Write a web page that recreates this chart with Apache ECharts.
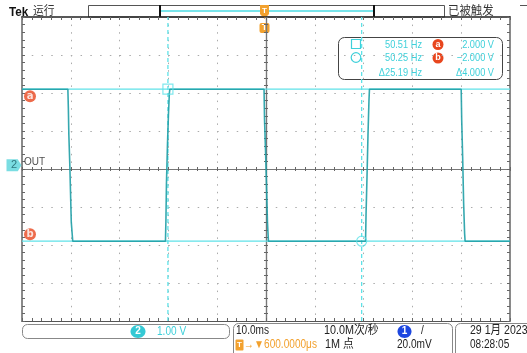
<!DOCTYPE html>
<html>
<head>
<meta charset="utf-8">
<script src="https://cdn.jsdelivr.net/npm/echarts@6/dist/echarts.min.js"></script>
<style>
  html, body { margin: 0; padding: 0; background: #ffffff; }
  #scope { width: 527px; height: 353px; }
</style>
</head>
<body>
<div id="scope"></div>
<script>
// Channel 2 (OUT), 10.0 ms/div horizontally, 1.00 V/div vertically.
// Screen time is measured from the centre graticule line, in ms.
const timeRange = [-50, 50];
// Channel-2 ground sits 0.1 div above the centre line.
const voltRange = [-4.1, 3.9];
const divRange = [-4, 4];

// Captured square wave (ms, V)
const waveTimes = [-50, -40.6, -40.5, -40.4, -40.2, -39.9, -39.6,
  -20.6, -20.5, -20.4, -20.2, -20.0, -19.8, -19.7,
  -0.4, -0.3, -0.1, 0.1, 0.3, 0.5,
  20.4, 20.5, 20.7, 20.9, 21.1, 21.2,
  40.0, 40.1, 40.3, 40.5, 40.7, 40.8, 50];
const waveVolts = [2.0, 2.0, 1.5, 0.8, 0.0, -1.5, -2.0,
  -2.0, -1.4, -0.5, 0.5, 1.3, 1.9, 2.0,
  2.0, 1.2, 0.4, -0.5, -1.5, -2.0,
  -2.0, -1.3, -0.3, 0.8, 1.7, 2.0,
  2.0, 1.2, 0.2, -1.0, -1.8, -2.0, -2.0];

// Trigger point on screen (ms) and cursor readouts
const triggerTime = -0.3;
const cursorFreqs = [50.51, 50.25];        // Hz, 1/t from trigger
const cursorDeltaFreq = 25.19;             // Hz
const cursorVolts = [2.0, -2.0];           // V
const cursorTimes = [triggerTime - 1000 / cursorFreqs[0], triggerTime + 1000 / cursorFreqs[1]];

const waveData = waveTimes.map((t, i) => [t, waveVolts[i]]);

const CYAN = '#3fd0da';
const CURSOR = '#5fe2e8';
const ORANGE = '#f2a12e';
const RED = '#e8461e';
const SANS = '"Liberation Sans", "Noto Sans CJK SC", sans-serif';

// Condensed readout text (the scope font is narrow)
function txt(x, y, text, fill, size, align, squeeze) {
  return {
    type: 'text', silent: true, x: x, y: y, scaleX: squeeze || 0.84,
    style: { x: 0, y: 0, text: text, fill: fill, font: size + 'px ' + SANS, align: align || 'left', verticalAlign: 'middle' }
  };
}
function badge(cx, cy, text, size) {
  return { type: 'text', silent: true, style: { x: cx, y: cy, text: text, fill: '#fff', font: 'bold ' + size + 'px ' + SANS, align: 'center', verticalAlign: 'middle' } };
}

const minorTicks = { show: true, splitNumber: 5, length: 3, lineStyle: { color: '#666', width: 1 } };
const centreMinor = { show: true, splitNumber: 5, length: 2, lineStyle: { color: '#666' } };

const chart = echarts.init(document.getElementById('scope'), null, { renderer: 'canvas' });

chart.setOption({
  animation: false,
  backgroundColor: '#ffffff',
  grid: { left: 22, top: 17, width: 488, height: 304, containLabel: false },
  xAxis: [
    { // bottom edge + vertical dotted graticule
      type: 'value', min: timeRange[0], max: timeRange[1], interval: 10, position: 'bottom',
      axisLine: { onZero: false, lineStyle: { color: '#555', width: 1 } },
      axisTick: { show: true, inside: true, length: 3, lineStyle: { color: '#666' } },
      minorTick: minorTicks,
      splitLine: { show: true, lineStyle: { color: '#ababab', width: 1, type: [1.5, 6.1] } },
      axisLabel: { show: false }
    },
    { // top edge
      type: 'value', min: timeRange[0], max: timeRange[1], interval: 10, position: 'top',
      axisLine: { onZero: false, lineStyle: { color: '#222', width: 1.5 } },
      axisTick: { show: true, inside: true, length: 3, lineStyle: { color: '#666' } },
      minorTick: minorTicks,
      splitLine: { show: false }, axisLabel: { show: false }
    },
    { // centre horizontal line, ticks below
      type: 'value', min: timeRange[0], max: timeRange[1], interval: 10, position: 'bottom',
      axisLine: { onZero: true, onZeroAxisIndex: 1, lineStyle: { color: '#777', width: 1.2 } },
      axisTick: { show: true, inside: false, length: 2, lineStyle: { color: '#666' } },
      minorTick: centreMinor,
      splitLine: { show: false }, axisLabel: { show: false }
    },
    { // centre horizontal line, ticks above
      type: 'value', min: timeRange[0], max: timeRange[1], interval: 10, position: 'bottom',
      axisLine: { onZero: true, onZeroAxisIndex: 1, lineStyle: { color: '#777', width: 1.2 } },
      axisTick: { show: true, inside: true, length: 2, lineStyle: { color: '#666' } },
      minorTick: centreMinor,
      splitLine: { show: false }, axisLabel: { show: false }
    }
  ],
  yAxis: [
    { // channel 2 volts
      type: 'value', min: voltRange[0], max: voltRange[1], show: false,
      axisLine: { onZero: false }, splitLine: { show: false }
    },
    { // left edge + horizontal dotted graticule
      type: 'value', min: divRange[0], max: divRange[1], interval: 1, position: 'left',
      axisLine: { onZero: false, lineStyle: { color: '#8a8a8a', width: 2 } },
      axisTick: { show: true, inside: true, length: 3, lineStyle: { color: '#666' } },
      minorTick: minorTicks,
      splitLine: { show: true, lineStyle: { color: '#ababab', width: 1, type: [1.5, 8.26] } },
      axisLabel: { show: false }
    },
    { // right edge
      type: 'value', min: divRange[0], max: divRange[1], interval: 1, position: 'right',
      axisLine: { onZero: false, lineStyle: { color: '#8a8a8a', width: 2 } },
      axisTick: { show: true, inside: true, length: 3, lineStyle: { color: '#666' } },
      minorTick: minorTicks,
      splitLine: { show: false }, axisLabel: { show: false }
    },
    { // centre vertical line, ticks left
      type: 'value', min: divRange[0], max: divRange[1], interval: 1, position: 'left',
      axisLine: { onZero: true, onZeroAxisIndex: 0, lineStyle: { color: '#777', width: 1.2 } },
      axisTick: { show: true, inside: false, length: 2, lineStyle: { color: '#666' } },
      minorTick: centreMinor,
      splitLine: { show: false }, axisLabel: { show: false }
    },
    { // centre vertical line, ticks right
      type: 'value', min: divRange[0], max: divRange[1], interval: 1, position: 'left',
      axisLine: { onZero: true, onZeroAxisIndex: 0, lineStyle: { color: '#777', width: 1.2 } },
      axisTick: { show: true, inside: true, length: 2, lineStyle: { color: '#666' } },
      minorTick: centreMinor,
      splitLine: { show: false }, axisLabel: { show: false }
    }
  ],
  series: [
    // horizontal voltage cursors a / b
    ...cursorVolts.map(v => ({
      type: 'line', xAxisIndex: 0, yAxisIndex: 0, symbol: 'none', silent: true,
      data: [[timeRange[0], v], [timeRange[1], v]],
      lineStyle: { color: CURSOR, width: 1.3 }, z: 2
    })),
    // vertical time cursors
    ...cursorTimes.map(t => ({
      type: 'line', xAxisIndex: 0, yAxisIndex: 0, symbol: 'none', silent: true,
      data: [[t, voltRange[0]], [t, voltRange[1]]],
      lineStyle: { color: CURSOR, width: 1.3, type: [4, 3] }, z: 2
    })),
    // measured waveform
    {
      type: 'line', xAxisIndex: 0, yAxisIndex: 0, symbol: 'none', silent: true,
      data: waveData,
      lineStyle: { color: '#1f9ea6', width: 1.6, opacity: 0.9 }, z: 3
    },
    // cursor intersections: square on cursor 1, circle on cursor 2
    {
      type: 'scatter', xAxisIndex: 0, yAxisIndex: 0, silent: true, clip: false, z: 4,
      data: [
        { value: [cursorTimes[0], cursorVolts[0]], symbol: 'rect', symbolSize: 10 },
        { value: [cursorTimes[1], cursorVolts[1]], symbol: 'circle', symbolSize: 10 }
      ],
      itemStyle: { color: 'rgba(0,0,0,0)', borderColor: CURSOR, borderWidth: 1.2 }
    },
    // cursor tags a / b at the left edge
    {
      type: 'scatter', xAxisIndex: 0, yAxisIndex: 0, silent: true, clip: false, z: 5,
      symbol: 'circle', symbolSize: 12,
      itemStyle: { color: RED },
      label: { show: true, position: 'inside', color: '#fff', fontSize: 10, fontWeight: 'bold', fontFamily: 'DejaVu Sans' },
      data: [
        { value: [timeRange[0], cursorVolts[0]], symbolOffset: [8, 7], label: { formatter: 'a' } },
        { value: [timeRange[0], cursorVolts[1]], symbolOffset: [8, -7], label: { formatter: 'b' } }
      ]
    },
    // channel 2 ground marker
    {
      type: 'scatter', xAxisIndex: 0, yAxisIndex: 0, silent: true, clip: false, z: 5,
      data: [{
        value: [timeRange[0], 0],
        symbol: 'path://M0,0 L12,0 L16,6 L12,12 L0,12 Z', symbolSize: [15, 12], symbolOffset: [-8, 0],
        itemStyle: { color: '#59d4db' },
        label: { show: true, position: 'inside', formatter: '2', color: '#1b5e66', fontSize: 11, fontFamily: SANS }
      }, {
        value: [timeRange[0], 0], symbolSize: 0,
        label: { show: true, position: 'right', formatter: 'OUT', color: '#222', fontSize: 10, fontFamily: SANS, offset: [-3, -3] }
      }]
    }
  ],
  graphic: [
    // header
    { type: 'text', silent: true, x: 9, y: 12, scaleX: 0.9, style: { x: 0, y: 0, text: 'Tek', fill: '#111', font: 'bold 13px ' + SANS, verticalAlign: 'middle' } },
    txt(33, 12, '运行', '#333', 12, 'left', 0.9),
    // record view bar
    { type: 'rect', silent: true, shape: { x: 88.5, y: 5.5, width: 356, height: 11.5 }, style: { fill: '#fff', stroke: '#555', lineWidth: 1 } },
    { type: 'line', silent: true, shape: { x1: 160, y1: 5, x2: 160, y2: 17 }, style: { stroke: '#111', lineWidth: 2 } },
    { type: 'line', silent: true, shape: { x1: 374, y1: 5, x2: 374, y2: 17 }, style: { stroke: '#111', lineWidth: 2 } },
    { type: 'line', silent: true, shape: { x1: 161, y1: 11, x2: 373, y2: 11 }, style: { stroke: '#78e4ea', lineWidth: 2 } },
    txt(448, 12, '已被触发', '#333', 12, 'left', 0.95),
    { type: 'line', silent: true, shape: { x1: 520, y1: 5.5, x2: 527, y2: 5.5 }, style: { stroke: '#555', lineWidth: 1 } },
    // trigger position on record bar
    { type: 'polygon', silent: true, shape: { points: [[260, 5], [269, 5], [269, 14], [264.5, 19], [260, 14]] }, style: { fill: ORANGE } },
    badge(264.5, 10.5, 'T', 8),
    // trigger marker on graticule
    { type: 'rect', silent: true, shape: { x: 259.5, y: 23, width: 10, height: 10, r: 2 }, style: { fill: ORANGE } },
    badge(264.5, 28, 'T', 9),

    // cursor readout panel
    { type: 'rect', silent: true, shape: { x: 338.5, y: 37.5, width: 164, height: 42, r: 6 }, style: { fill: '#fff', stroke: '#444', lineWidth: 1 } },
    { type: 'rect', silent: true, shape: { x: 351.5, y: 39.5, width: 9, height: 9 }, style: { fill: 'none', stroke: CYAN, lineWidth: 1.2 } },
    { type: 'circle', silent: true, shape: { cx: 356, cy: 57.5, r: 4.8 }, style: { fill: 'none', stroke: CYAN, lineWidth: 1.2 } },
    txt(422, 45, cursorFreqs[0].toFixed(2) + ' Hz', CYAN, 11, 'right'),
    txt(422, 58, cursorFreqs[1].toFixed(2) + ' Hz', CYAN, 11, 'right'),
    txt(422, 73, 'Δ' + cursorDeltaFreq.toFixed(2) + ' Hz', CYAN, 11, 'right'),
    { type: 'circle', silent: true, shape: { cx: 438, cy: 44.5, r: 5.5 }, style: { fill: RED } },
    badge(438, 44.5, 'a', 9),
    { type: 'circle', silent: true, shape: { cx: 438, cy: 58, r: 5.5 }, style: { fill: RED } },
    badge(438, 58, 'b', 9),
    txt(494, 45, cursorVolts[0].toFixed(3) + ' V', CYAN, 11, 'right'),
    txt(494, 58, '−' + Math.abs(cursorVolts[1]).toFixed(3) + ' V', CYAN, 11, 'right'),
    txt(494, 73, 'Δ' + (cursorVolts[0] - cursorVolts[1]).toFixed(3) + ' V', CYAN, 11, 'right'),

    // channel readout
    { type: 'rect', silent: true, shape: { x: 22.5, y: 324.5, width: 207, height: 14, r: 5 }, style: { fill: 'none', stroke: '#888', lineWidth: 1 } },
    { type: 'ellipse', silent: true, shape: { cx: 138, cy: 331.5, rx: 7.5, ry: 6.5 }, style: { fill: '#35c9d4' } },
    badge(138, 331.5, '2', 10),
    txt(157, 332, '1.00 V', CYAN, 12),

    // horizontal / acquisition readout
    { type: 'rect', silent: true, shape: { x: 233.5, y: 323.5, width: 219, height: 40, r: 5 }, style: { fill: 'none', stroke: '#888', lineWidth: 1 } },
    txt(236, 331, '10.0ms', '#222', 12),
    { type: 'rect', silent: true, shape: { x: 235.5, y: 339.5, width: 8, height: 11, r: 1 }, style: { fill: ORANGE } },
    badge(239.5, 345, 'T', 8),
    txt(244, 345, '→▼600.0000μs', ORANGE, 12),
    txt(324, 331, '10.0M次/秒', '#222', 12, 'left', 0.9),
    txt(325, 345, '1M 点', '#222', 12, 'left', 0.9),
    { type: 'ellipse', silent: true, shape: { cx: 404.5, cy: 331.5, rx: 7, ry: 6.5 }, style: { fill: '#1d47e0' } },
    badge(404.5, 331.5, '1', 10),
    txt(421, 331, '/', '#222', 12),
    txt(397, 345, '20.0mV', '#222', 12),

    // date / time
    { type: 'rect', silent: true, shape: { x: 455.5, y: 323.5, width: 80, height: 40, r: 5 }, style: { fill: 'none', stroke: '#888', lineWidth: 1 } },
    txt(470, 331, '29 1月 2023', '#222', 12, 'left', 0.88),
    txt(470, 345, '08:28:05', '#222', 12)
  ]
});
</script>
</body>
</html>
